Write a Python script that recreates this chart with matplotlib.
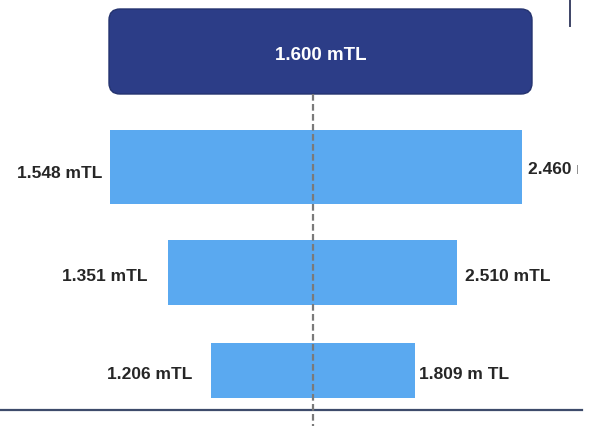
import matplotlib
matplotlib.use("Agg")
import matplotlib.pyplot as plt
from matplotlib.patches import FancyBboxPatch, Rectangle

# ---- data ---------------------------------------------------------------
center_label = "1.600 mTL"
low_labels = ["1.548 mTL", "1.351 mTL", "1.206 mTL"]
high_labels = ["2.460 mTL", "2.510 mTL", "1.809 m TL"]
# bar spread to the left / right of the centre value (chart units)
low_spread = [-203, -145, -102]
high_spread = [209, 144, 102]

# ---- layout -------------------------------------------------------------
W, H = 594, 426
CX = 313                      # centre line, in pixels from the left
row_y = [167, 272.5, 370.5]   # row centres, pixels from the top
row_h = [74, 65, 55]
left_pad = [8, 21, 19]
right_pad = [6, 8, 4]
label_dy = [6, 4, 4]

BAR = "#5aa9f0"
NAVY = "#2c3d87"
TXT = "#262626"

fig = plt.figure(figsize=(W / 100, H / 100), dpi=100)
ax = fig.add_axes([0, 0, 1, 1])
ax.set_xlim(-CX, W - CX)
ax.set_ylim(H, 0)
ax.axis("off")

# centre box
box_l, box_r, box_t, box_b = -204, 219, 9, 94
ax.add_patch(FancyBboxPatch((box_l, box_t), box_r - box_l, box_b - box_t,
                            boxstyle="round,pad=0,rounding_size=11",
                            fc=NAVY, ec="#24336f", lw=1, zorder=3))
ax.text((box_l + box_r) / 2, 55, center_label, color="white",
        ha="center", va="center", fontsize=13.5, fontweight="bold",
        family="Liberation Sans", zorder=4)

# dashed centre line
ax.plot([0, 0], [box_b, H], color="#7a7a7a", lw=1.6,
        ls=(0, (3, 1.5)), zorder=5)

# bars
ax.barh(row_y, [h - l for l, h in zip(low_spread, high_spread)],
        left=low_spread, height=row_h, color=BAR, zorder=2)

# right-hand labels are cut at the panel's right margin
clip = Rectangle((-CX, 0), 578, H, transform=ax.transData)
for i in range(3):
    ax.text(low_spread[i] - left_pad[i], row_y[i] + label_dy[i], low_labels[i],
            ha="right", va="center", fontsize=12.5, fontweight="bold",
            color=TXT, family="Liberation Sans")
    t = ax.text(high_spread[i] + right_pad[i], row_y[i] + label_dy[i] - 3 * (i == 0),
                high_labels[i], ha="left", va="center", fontsize=12.5,
                fontweight="bold", color=TXT, family="Liberation Sans")
    t.set_clip_on(True)
    t.set_clip_path(clip)

# baseline and top-right rule
ax.plot([-CX, 269], [410, 410], color="#3d4b6b", lw=1.6, zorder=1)
ax.plot([257, 257], [0, 26], color="#3d4466", lw=1.4)

fig.savefig("out.png", dpi=100)
